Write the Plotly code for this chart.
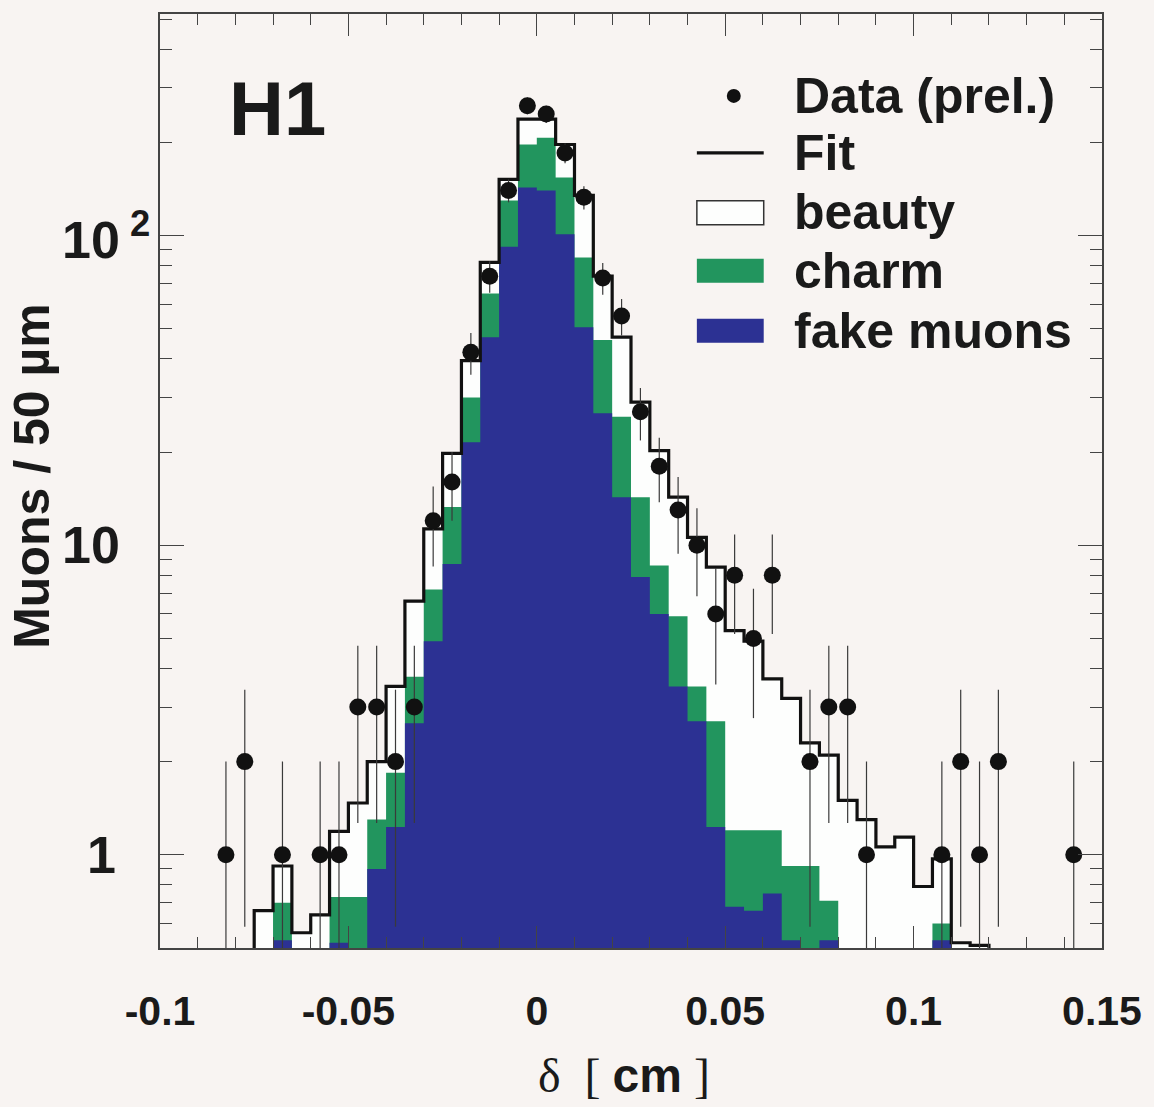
import numpy as np
import plotly.graph_objects as go

# ---- binning: 50 um bins in delta [cm] ----
bin_low = -0.1
bin_width = 0.005
n_bins = 50

# stacked model tops per bin (bins below 0.5 sit under the axis floor)
fit_total = [0.3, 0.3, 0.3, 0.3, 0.35, 0.66, 0.92, 0.56, 0.64, 1.19,
             1.47, 2.0, 3.5, 6.6, 11.3, 19.8, 39.5, 82, 152, 238,
             238, 197, 135, 74, 47, 29, 20.2, 14.3, 10.6, 8.5,
             5.3, 4.9, 3.7, 3.2, 2.3, 2.1, 1.5, 1.3, 1.06, 1.14,
             0.79, 0.97, 0.52, 0.51, 0.3, 0.3, 0.3, 0.3, 0.3, 0.3]
charm_plus_fake = [0.3, 0.3, 0.3, 0.3, 0.3, 0.3, 0.70, 0.3, 0.3, 0.73,
                   0.73, 1.3, 1.84, 3.76, 7.2, 13.3, 30, 65, 130, 197,
                   207, 154, 85, 46, 26, 14.3, 8.6, 5.9, 3.5, 2.7,
                   1.2, 1.2, 1.2, 0.92, 0.92, 0.71, 0.3, 0.3, 0.3, 0.3,
                   0.3, 0.6, 0.3, 0.3, 0.3, 0.3, 0.3, 0.3, 0.3, 0.3]
fake_muons = [0.3, 0.3, 0.3, 0.3, 0.3, 0.3, 0.53, 0.3, 0.3, 0.52,
              0.3, 0.9, 1.23, 2.66, 4.9, 8.7, 21.5, 47, 92, 143,
              140, 101, 50.6, 26.7, 14.3, 7.9, 6.0, 3.5, 2.7, 1.23,
              0.68, 0.66, 0.75, 0.53, 0.45, 0.53, 0.3, 0.3, 0.3, 0.3,
              0.3, 0.53, 0.3, 0.3, 0.3, 0.3, 0.3, 0.3, 0.3, 0.3]

# measured muon counts (bin centres in cm)
data_delta = [-0.0825, -0.0775, -0.0675, -0.0575, -0.0525, -0.0475, -0.0425,
              -0.0375, -0.0325, -0.0275, -0.0225, -0.0175, -0.0125, -0.0075,
              -0.0025, 0.0025, 0.0075, 0.0125, 0.0175, 0.0225, 0.0275,
              0.0325, 0.0375, 0.0425, 0.0475, 0.0525, 0.0575, 0.0625,
              0.0725, 0.0775, 0.0825, 0.0875, 0.1075, 0.1125, 0.1175,
              0.1225, 0.1425]
data_counts = [1, 2, 1, 1, 1, 3, 3, 2, 3, 12, 16, 42, 74, 140, 263, 247,
               185, 133, 73, 55, 27, 18, 13, 10, 6, 8, 5, 8, 2, 3, 3, 1,
               1, 2, 1, 2, 1]

x_tick_vals = [-0.1, -0.05, 0, 0.05, 0.1, 0.15]
x_tick_text = ["-0.1", "-0.05", "0", "0.05", "0.1", "0.15"]
y_tick_vals = [1, 10, 100]
y_tick_text = ["1", "10", "10<sup> 2</sup>"]

GREEN = "#22955e"
BLUE = "#2c3193"
BEAUTY = "#fdfefd"
BG = "#f8f4f2"
INK = "#1a1a1a"
FONT = "Liberation Sans"

W, H = 1154, 1107
ML, MR, MT, MB = 160, 50, 13, 159
PW, PH = W - ML - MR, H - MT - MB
Y_MIN, Y_MAX = 0.5, 520
FLOOR = 0.01

edges = bin_low + bin_width * np.arange(n_bins + 1)


def step_polygon(values):
    xs, ys = [edges[0]], [FLOOR]
    for i, v in enumerate(values):
        xs += [edges[i], edges[i + 1]]
        ys += [v, v]
    xs.append(edges[-1])
    ys.append(FLOOR)
    return xs, ys


def px(x):
    return (x - ML) / PW


def py(y):
    return 1 - (y - MT) / PH


fig = go.Figure()

# stacked contributions drawn back to front
for tops, col in [(fit_total, BEAUTY), (charm_plus_fake, GREEN), (fake_muons, BLUE)]:
    xs, ys = step_polygon(tops)
    fig.add_trace(go.Scatter(x=xs, y=ys, mode="lines", fill="toself",
                             fillcolor=col, line=dict(width=0),
                             hoverinfo="skip", showlegend=False))

# fit outline
fig.add_trace(go.Scatter(x=list(edges), y=list(fit_total) + [fit_total[-1]],
                         mode="lines", line=dict(color="#111111", width=3.2, shape="hv"),
                         hoverinfo="skip", showlegend=False))

# statistical error bars (sqrt N)
ex, ey = [], []
for d, n in zip(data_delta, data_counts):
    s = np.sqrt(n)
    ex += [d, d, None]
    ey += [max(n - s, FLOOR), n + s, None]
fig.add_trace(go.Scatter(x=ex, y=ey, mode="lines",
                         line=dict(color="#3a3a3a", width=1.2),
                         hoverinfo="skip", showlegend=False))

# data points
fig.add_trace(go.Scatter(x=data_delta, y=data_counts, mode="markers",
                         marker=dict(color="#111111", size=17, symbol="circle"),
                         showlegend=False))

minor_y = [v * m for m in (0.1, 1, 10) for v in range(2, 10)] + [200, 300, 400, 500]
minor_y = [v for v in minor_y if Y_MIN <= v <= Y_MAX and v not in (1, 10, 100)]

fig.update_xaxes(range=[-0.1, 0.15], showline=True, mirror="ticks",
                 linecolor="#444444", linewidth=1.5, showgrid=False, zeroline=False,
                 ticks="inside", ticklen=22, tickwidth=1.3, tickcolor="#444444",
                 tickvals=x_tick_vals, ticktext=["<b>%s</b>" % t for t in x_tick_text],
                 tickfont=dict(family=FONT, size=41, color=INK),
                 ticklabelstandoff=26,
                 minor=dict(ticks="inside", ticklen=11, tickwidth=1.1, tickcolor="#444444",
                            dtick=0.01, showgrid=False))
fig.update_yaxes(type="log", range=[np.log10(Y_MIN), np.log10(Y_MAX)], showline=True,
                 mirror="ticks", linecolor="#444444", linewidth=1.5, showgrid=False,
                 zeroline=False, ticks="inside", ticklen=24, tickwidth=1.3,
                 tickcolor="#444444", tickvals=y_tick_vals, showticklabels=False,
                 minor=dict(ticks="inside", ticklen=12, tickwidth=1.1, tickcolor="#444444",
                            tickvals=minor_y, showgrid=False))

annotations = []
# y tick labels
y_label_pos = [(101, "center"), (60, "left"), (60, "left")]
for v, t, (xl, anchor) in zip(y_tick_vals, y_tick_text, y_label_pos):
    annotations.append(dict(xref="paper", yref="y", x=px(xl), y=np.log10(v),
                            xanchor=anchor, yanchor="middle", showarrow=False,
                            text="<b>%s</b>" % t,
                            font=dict(family=FONT, size=52, color=INK)))
# axis titles
annotations.append(dict(xref="paper", yref="paper", x=px(31), y=py(475),
                        xanchor="center", yanchor="middle", showarrow=False,
                        textangle=-90, text="<b>Muons / 50 µm</b>",
                        font=dict(family=FONT, size=50, color=INK)))
annotations.append(dict(xref="paper", yref="paper", x=px(625), y=py(1076),
                        xanchor="center", yanchor="middle", showarrow=False,
                        text='<span style="font-family:Liberation Serif">δ  [ </span>'
                             '<b>cm</b><span style="font-family:Liberation Serif"> ]</span>',
                        font=dict(family=FONT, size=48, color=INK)))
# experiment label
annotations.append(dict(xref="paper", yref="paper", x=px(278), y=py(108),
                        xanchor="center", yanchor="middle", showarrow=False,
                        text="<b>H1</b>", font=dict(family=FONT, size=76, color=INK)))

# legend
legend_rows = [("Data (prel.)", 95), ("Fit", 152), ("beauty", 211),
               ("charm", 270), ("fake muons", 330)]
for label, yc in legend_rows:
    annotations.append(dict(xref="paper", yref="paper", x=px(793), y=py(yc),
                            xanchor="left", yanchor="middle", showarrow=False,
                            text="<b>%s</b>" % label,
                            font=dict(family=FONT, size=50, color=INK)))

shapes = [
    dict(type="circle", xref="paper", yref="paper", x0=px(728), x1=px(742),
         y0=py(102), y1=py(88), fillcolor="#111111", line=dict(width=0)),
    dict(type="line", xref="paper", yref="paper", x0=px(698), x1=px(765),
         y0=py(152), y1=py(152), line=dict(color="#111111", width=3.2)),
    dict(type="rect", xref="paper", yref="paper", x0=px(698), x1=px(765),
         y0=py(224), y1=py(200), fillcolor=BEAUTY, line=dict(color="#333333", width=1.5)),
    dict(type="rect", xref="paper", yref="paper", x0=px(698), x1=px(765),
         y0=py(282), y1=py(258), fillcolor=GREEN, line=dict(width=0)),
    dict(type="rect", xref="paper", yref="paper", x0=px(698), x1=px(765),
         y0=py(342), y1=py(318), fillcolor=BLUE, line=dict(width=0)),
]

fig.update_layout(width=W, height=H, margin=dict(l=ML, r=MR, t=MT, b=MB),
                  paper_bgcolor=BG, plot_bgcolor=BG, showlegend=False,
                  annotations=annotations, shapes=shapes)

fig.write_html("out.html")
